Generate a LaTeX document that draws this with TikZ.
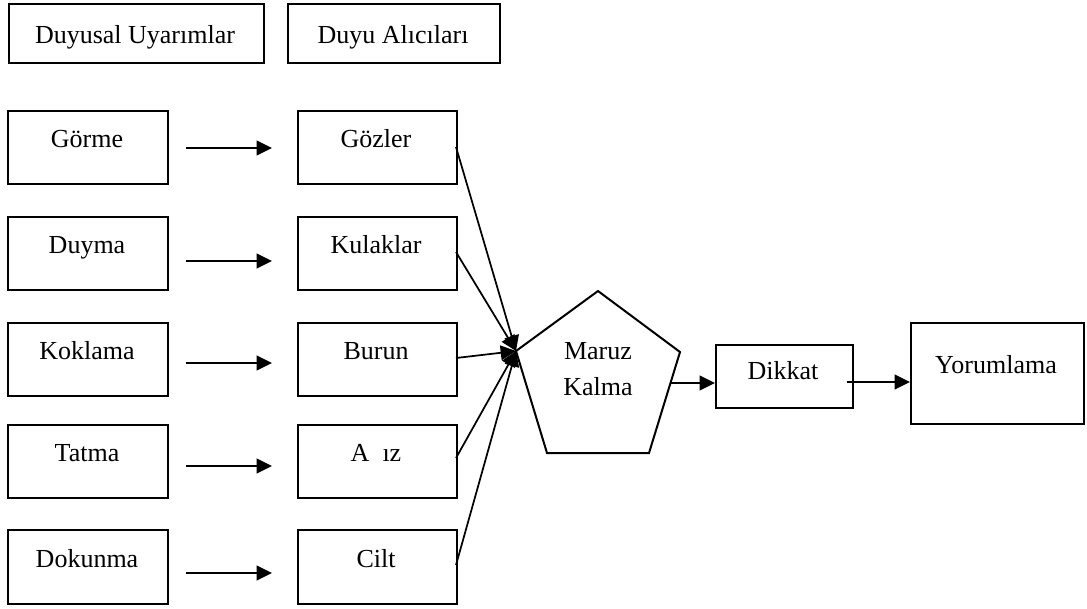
\documentclass[tikz,border=0pt]{standalone}
\usepackage{fontspec}
\setmainfont{Liberation Serif}
\usetikzlibrary{arrows.meta}
\begin{document}
\begin{tikzpicture}[x=0.75pt,y=-0.75pt,
  box/.style={draw, line width=1.5pt, anchor=north west, inner sep=0pt},
  lbl/.style={anchor=base, inner sep=0pt, font=\fontsize{19.5}{23}\selectfont},
  arr/.style={line width=1.4pt, -{Triangle[length=11.5pt,width=11pt]}},
  wire/.style={line width=1.3pt}]
\useasboundingbox (0,0) rectangle (1087,608);
\newcommand\boxat[5]{\node[box, minimum width=#4*0.75pt, minimum height=#5*0.75pt] (#1) at (#2,#3) {};}

% column headings
\boxat{hs}{8}{3}{255}{59}
\boxat{hr}{287}{3}{212}{59}
\node[lbl] (hsT) at (135,43) {Duyusal Uyarımlar};
\node[lbl] (hrT) at (393,43) {Duyu Alıcıları};

% stimuli (left) and receptors (right), one row each
\boxat{s1}{7}{110}{160}{73}  \boxat{r1}{297}{110}{159}{73}
\boxat{s2}{7}{216}{160}{73}  \boxat{r2}{297}{216}{159}{73}
\boxat{s3}{7}{322}{160}{73}  \boxat{r3}{297}{322}{159}{73}
\boxat{s4}{7}{424}{160}{73}  \boxat{r4}{297}{424}{159}{73}
\boxat{s5}{7}{529}{160}{74}  \boxat{r5}{297}{529}{159}{74}

\node[lbl] (s1T) at (87,147) {Görme};    \node[lbl] (r1T) at (376,147) {Gözler};
\node[lbl] (s2T) at (87,253) {Duyma};    \node[lbl] (r2T) at (376,253) {Kulaklar};
\node[lbl] (s3T) at (87,359) {Koklama};  \node[lbl] (r3T) at (376,359) {Burun};
\node[lbl] (s4T) at (87,461) {Tatma};    \node[lbl] (r4T) at (376,461) {A\phantom{ğ}ız};
\node[lbl] (s5T) at (87,567) {Dokunma};  \node[lbl] (r5T) at (376,567) {Cilt};

% stimulus -> receptor arrows
\coordinate (a1) at (186,148); \coordinate (b1) at (272,148);
\coordinate (a2) at (186,261); \coordinate (b2) at (272,261);
\coordinate (a3) at (186,363); \coordinate (b3) at (272,363);
\coordinate (a4) at (186,466); \coordinate (b4) at (272,466);
\coordinate (a5) at (186,573); \coordinate (b5) at (272,573);
\foreach \i in {1,...,5} \draw[arr] (a\i) -- (b\i);

% exposure pentagon
\coordinate (pt) at (598,291);
\coordinate (pl) at (516,351);
\coordinate (pr) at (680,352);
\coordinate (pbr) at (649,453);
\coordinate (pbl) at (547,453);
\draw[line width=1.5pt, line join=miter] (pt) -- (pr) -- (pbr) -- (pbl) -- (pl) -- cycle;
\node[lbl] (mk1) at (598,359) {Maruz};
\node[lbl] (mk2) at (598,395) {Kalma};

% receptors converge on the pentagon
\coordinate (c1) at (456,147);
\coordinate (c2) at (456,252);
\coordinate (c3) at (456,358);
\coordinate (c4) at (456,458);
\coordinate (c5) at (456,565);
\foreach \i in {1,...,5} \draw[arr, wire] (c\i) -- (pl);

% attention and interpretation
\boxat{dk}{715}{344}{137}{63}
\node[lbl] (dkT) at (783,379) {Dikkat};
\boxat{yr}{910}{322}{173}{101}
\node[lbl] (yrT) at (996,373) {Yorumlama};

\coordinate (po) at (671,383);
\draw[arr] (po) -- (dk.west |- po);
\coordinate (do) at (847,382);
\draw[arr] (do) -- (yr.west |- do);
\end{tikzpicture}
\end{document}
